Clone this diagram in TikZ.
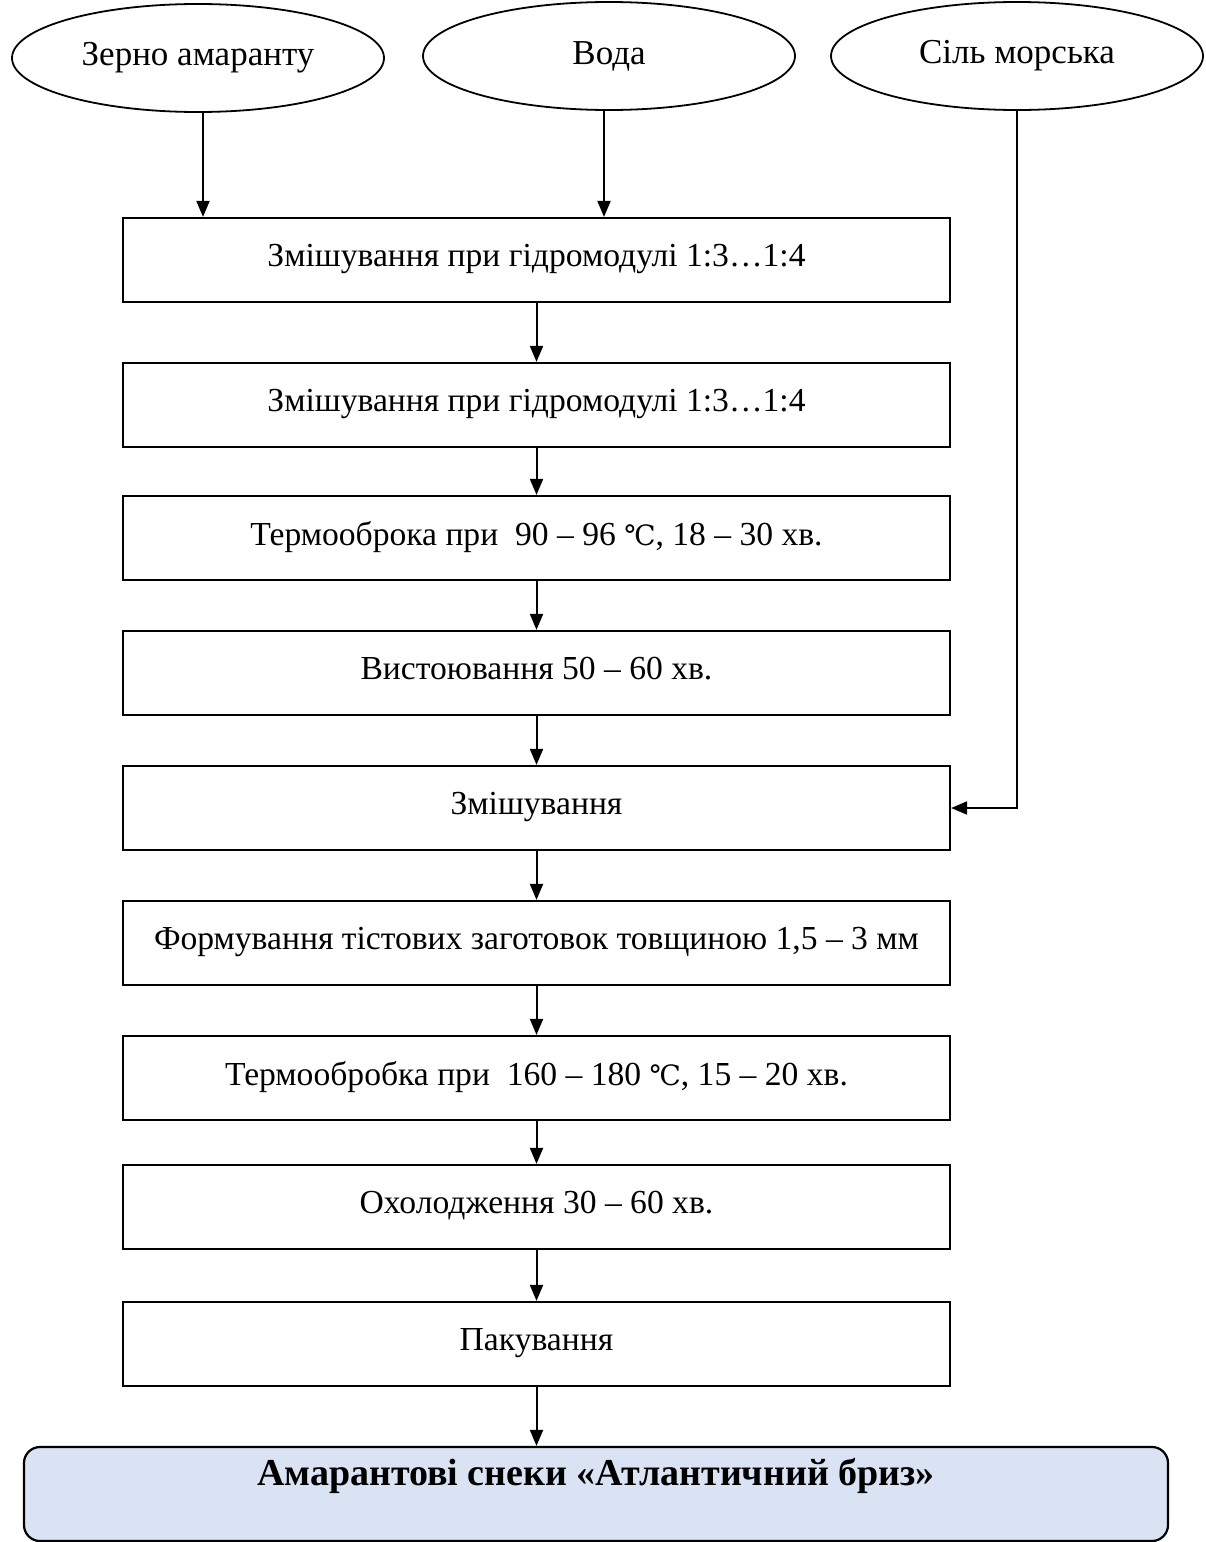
\documentclass[tikz,border=0pt]{standalone}
\usepackage{fontspec}
\setmainfont{Liberation Serif}
\newfontfamily\symfont{DejaVu Serif}
\newcommand{\degC}{{\symfont\fontsize{14pt}{17pt}\selectfont ℃}}
\usetikzlibrary{shapes.geometric,arrows.meta}
\definecolor{resultfill}{HTML}{DAE3F3}
\begin{document}
\begin{tikzpicture}[x=0.5pt,y=-0.5pt,
  every node/.style={font=\fontsize{16.8pt}{20pt}\selectfont},
  source/.style={ellipse,draw,line width=0.9pt,minimum width=186pt,minimum height=54pt,inner sep=0pt,font=\fontsize{17.5pt}{20pt}\selectfont},
  stepbox/.style={rectangle,draw,line width=1.1pt,minimum width=413.5pt,minimum height=42pt,inner sep=0pt,text depth=5pt},
  result/.style={rectangle,rounded corners=8pt,draw,line width=1.1pt,fill=resultfill,minimum width=572pt,minimum height=47pt,inner sep=0pt,font=\fontsize{19pt}{22pt}\selectfont\bfseries,text depth=22pt},
  flow/.style={-{Triangle[length=8pt,width=6.5pt]},line width=1pt}]
\useasboundingbox (0,0) rectangle (1205,1542);

% raw materials
\node[source] (e1) at (198,58) {Зерно амаранту};
\node[source] (e2) at (609,56) {Вода};
\node[source] (e3) at (1017,56) {Сіль морська};

% process steps
\node[stepbox] (b1) at (536.5,260) {Змішування при гідромодулі 1:3…1:4};
\node[stepbox] (b2) at (536.5,405) {Змішування при гідромодулі 1:3…1:4};
\node[stepbox] (b3) at (536.5,538) {Термооброка при\ \ 90 – 96 \degC, 18 – 30 хв.};
\node[stepbox] (b4) at (536.5,673) {Вистоювання 50 – 60 хв.};
\node[stepbox] (b5) at (536.5,808) {Змішування};
\node[stepbox] (b6) at (536.5,943) {Формування тістових заготовок товщиною 1,5 – 3 мм};
\node[stepbox] (b7) at (536.5,1078) {Термообробка при\ \ 160 – 180 \degC, 15 – 20 хв.};
\node[stepbox] (b8) at (536.5,1207) {Охолодження 30 – 60 хв.};
\node[stepbox] (b9) at (536.5,1344) {Пакування};

% final product
\node[result] (r) at (596,1494) {Амарантові снеки «Атлантичний бриз»};

% connectors
\draw[flow] ([xshift=2.5pt]e1.south) -- ([xshift=2.5pt]e1.south |- b1.north);
\draw[flow] ([xshift=-2.5pt]e2.south) -- ([xshift=-2.5pt]e2.south |- b1.north);
\draw[flow] (e3.south) |- (b5.east);
\draw[flow] (b1) -- (b2);
\draw[flow] (b2) -- (b3);
\draw[flow] (b3) -- (b4);
\draw[flow] (b4) -- (b5);
\draw[flow] (b5) -- (b6);
\draw[flow] (b6) -- (b7);
\draw[flow] (b7) -- (b8);
\draw[flow] (b8) -- (b9);
\draw[flow] (b9.south) -- (b9.south |- r.north);
\end{tikzpicture}
\end{document}
